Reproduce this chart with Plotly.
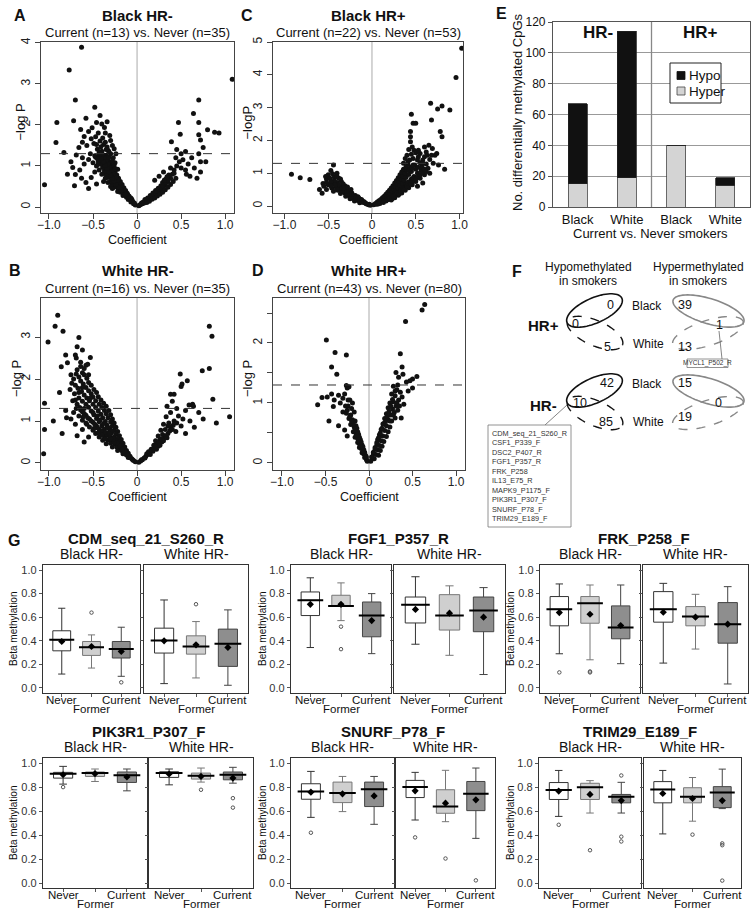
import numpy as np
import plotly.graph_objects as go

W, H = 754, 917
FONT = "Liberation Sans, Arial, sans-serif"

# ---------------- Volcano data (coefficient, -log P) ----------------
volcano_a = [(-0.63,3.89),(-0.77,3.34),(-0.70,2.61),(-0.48,2.43),(-0.91,2.06),(-0.72,2.10),(-0.58,2.16),(-0.42,2.23),
 (-0.64,1.89),(-0.46,2.06),(-0.34,2.08),(-0.40,2.02),(-0.37,1.94),(-0.51,1.93),(-0.55,1.84),(-0.44,1.80),(-0.36,1.80),
 (-0.60,1.72),(-0.52,1.66),(-0.47,1.71),(-0.31,1.74),(-0.30,1.62),(-0.42,1.61),(-0.49,1.55),(-0.57,1.50),(-0.62,1.58),
 (-0.66,1.45),(-0.38,1.52),(-0.34,1.46),(-0.28,1.50),(-0.45,1.41),(-0.40,1.36),(-0.92,1.57),(-1.05,0.54),(-0.83,1.33),
 (-0.69,1.27),(-0.75,1.10),(-0.73,0.96),(-0.79,0.80),(-0.70,0.79),(-0.65,0.90),(-0.60,1.05),(-0.55,1.16),(-0.63,0.70),
 (-0.71,0.52),(-0.58,0.60),(-0.52,0.72),(-0.48,0.85),(-0.50,1.08),(-0.47,1.21),(-0.55,0.45),(-0.46,0.56),(-0.62,1.20),
 (-0.53,1.30),(-0.33,1.38),(-0.26,1.42),(-0.24,1.30),
 (-0.02,0.05),(-0.04,0.08),(-0.05,0.14),(-0.07,0.12),(-0.08,0.20),(-0.10,0.18),(-0.09,0.26),(-0.12,0.24),(-0.11,0.33),
 (-0.14,0.30),(-0.16,0.28),(-0.13,0.40),(-0.16,0.38),(-0.19,0.36),(-0.15,0.47),(-0.18,0.45),(-0.21,0.43),(-0.17,0.55),
 (-0.20,0.53),(-0.23,0.50),(-0.26,0.48),(-0.19,0.62),(-0.22,0.60),(-0.25,0.58),(-0.28,0.56),(-0.21,0.70),(-0.24,0.68),
 (-0.27,0.66),(-0.30,0.63),(-0.23,0.78),(-0.26,0.76),(-0.29,0.74),(-0.33,0.72),(-0.25,0.86),(-0.28,0.84),(-0.31,0.82),
 (-0.35,0.80),(-0.27,0.94),(-0.30,0.92),(-0.33,0.90),(-0.37,0.88),(-0.29,1.02),(-0.32,1.00),(-0.35,0.98),(-0.39,0.96),
 (-0.31,1.10),(-0.34,1.08),(-0.37,1.06),(-0.41,1.04),(-0.33,1.18),(-0.36,1.16),(-0.40,1.14),(-0.44,1.12),(-0.35,1.26),
 (-0.38,1.24),(-0.42,1.22),(-0.30,1.30),(-0.46,1.00),(-0.43,0.90),(-0.40,0.80),(-0.36,0.70),(-0.33,0.60),(-0.30,0.50),
 (-0.27,1.20),(-0.25,1.08),(-0.22,0.92),(-0.28,0.45),(-0.22,0.38),(-0.38,0.62),
 (-0.03,0.10),(-0.06,0.19),(-0.07,0.22),(-0.10,0.28),(-0.12,0.35),(-0.13,0.31),(-0.15,0.42),(-0.17,0.49),(-0.18,0.41),
 (-0.20,0.58),(-0.21,0.48),(-0.22,0.66),(-0.24,0.55),(-0.24,0.73),(-0.26,0.64),(-0.27,0.81),(-0.28,0.70),(-0.29,0.89),
 (-0.30,0.78),(-0.31,0.97),(-0.32,0.86),(-0.33,1.05),(-0.34,0.94),(-0.35,1.13),(-0.36,1.02),(-0.37,1.20),(-0.38,1.10),
 (-0.39,1.28),(-0.41,1.18),(-0.43,1.28),(-0.44,1.05),(-0.45,1.18),(-0.48,1.25),(-0.32,1.22),(-0.28,1.12),(-0.26,1.00),
 (-0.25,0.93),(-0.36,1.58),(-0.41,1.47),(-0.46,1.52),(-0.39,1.68),(-0.32,1.35),(-0.43,1.33),(-0.35,1.40),
 (1.08,3.11),(0.70,2.61),(0.64,2.28),(0.70,2.06),(0.47,2.06),(0.49,1.77),(0.80,1.88),(0.88,1.82),(0.93,1.80),(0.70,1.76),
 (0.72,1.63),(0.39,1.59),(0.55,1.35),(0.75,1.45),(0.72,1.10),(0.78,1.10),
 (0.02,0.03),(0.04,0.06),(0.06,0.08),(0.08,0.10),(0.10,0.13),(0.12,0.15),(0.09,0.18),(0.14,0.18),(0.12,0.22),(0.16,0.21),
 (0.18,0.25),(0.15,0.28),(0.20,0.28),(0.22,0.32),(0.18,0.34),(0.24,0.36),(0.21,0.40),(0.26,0.40),(0.28,0.45),(0.24,0.46),
 (0.30,0.50),(0.27,0.52),(0.32,0.55),(0.29,0.60),(0.35,0.62),(0.33,0.68),(0.38,0.70),(0.36,0.78),(0.40,0.80),(0.25,0.75),
 (0.20,0.65),(0.30,0.85),(0.42,0.90),(0.38,0.95),(0.45,1.00),(0.50,0.95),(0.55,0.90),(0.48,1.10),(0.52,1.15),(0.44,1.20),
 (0.58,1.05),(0.60,0.75),(0.65,0.95),(0.68,0.70),(0.72,0.85),(0.56,0.80),(0.62,1.20),(0.70,1.30),(0.50,1.30),(0.45,1.40),
 (0.03,0.05),(0.05,0.10),(0.07,0.12),(0.09,0.14),(0.11,0.17),(0.13,0.20),(0.15,0.23),(0.17,0.27),(0.19,0.30),(0.21,0.34),
 (0.23,0.38),(0.25,0.43),(0.27,0.47),(0.29,0.52),(0.31,0.57),(0.33,0.60),(0.35,0.66),(0.11,0.11),(0.14,0.14),(0.17,0.19),
 (0.20,0.22),(0.23,0.27),(0.26,0.31),(0.29,0.36),(0.32,0.42),(0.35,0.48),(0.38,0.55),(0.41,0.62),(0.44,0.70),(0.31,0.66),
 (0.34,0.74),(0.42,0.82)]

volcano_b = [(-0.90,3.52),(-0.93,3.26),(-0.84,3.14),(-1.01,2.88),(-0.66,2.99),(-0.68,2.77),(-0.62,2.69),(-0.81,2.57),
 (-0.79,2.39),(-0.86,2.29),(-0.70,2.57),(-0.69,2.50),(-0.53,2.51),(-0.58,2.33),(-0.56,2.35),(-0.64,2.30),(-0.68,2.22),
 (-0.62,2.15),(-0.66,2.05),(-0.60,2.10),(-0.72,2.00),(-0.74,1.90),(-0.57,2.02),(-0.64,1.95),(-0.70,1.85),(-0.61,1.88),
 (-0.55,1.92),(-0.67,1.78),(-0.58,1.80),(-0.52,1.85),(-0.76,1.75),(-0.63,1.70),(-0.55,1.72),(-0.49,1.75),(-0.71,1.65),
 (-0.60,1.62),(-0.52,1.65),(-0.46,1.68),(-0.66,1.55),(-0.57,1.55),(-0.50,1.57),(-0.44,1.58),(-0.73,1.48),(-0.62,1.47),
 (-0.54,1.48),(-0.47,1.48),(-0.41,1.50),(-0.88,1.68),(-1.05,1.42),(-0.81,1.25),(-0.68,1.40),(-0.58,1.40),(-0.50,1.40),
 (-0.43,1.40),(-0.38,1.42),(-0.65,1.32),(-0.55,1.33),(-0.47,1.32),(-0.40,1.32),(-0.35,1.35),
 (-0.72,1.20),(-0.62,1.22),(-0.52,1.24),(-0.44,1.24),(-0.37,1.25),(-0.32,1.25),(-0.75,1.05),(-0.66,1.12),(-0.58,1.14),
 (-0.49,1.15),(-0.41,1.16),(-0.35,1.17),(-0.30,1.15),(-0.62,1.02),(-0.54,1.05),(-0.46,1.06),(-0.39,1.08),(-0.33,1.08),
 (-0.28,1.05),(-0.70,0.92),(-0.58,0.95),(-0.50,0.97),(-0.43,0.98),(-0.36,0.99),(-0.30,0.98),(-0.26,0.95),(-0.54,0.86),
 (-0.46,0.88),(-0.40,0.89),(-0.34,0.90),(-0.28,0.89),(-0.24,0.85),(-0.62,0.80),(-0.50,0.78),(-0.43,0.80),(-0.37,0.81),
 (-0.31,0.81),(-0.26,0.78),(-0.22,0.75),(-0.47,0.70),(-0.40,0.71),(-0.34,0.72),(-0.29,0.72),(-0.24,0.69),(-0.20,0.65),
 (-0.55,0.62),(-0.43,0.62),(-0.37,0.63),(-0.31,0.63),(-0.26,0.62),(-0.22,0.59),(-0.18,0.56),(-0.39,0.54),(-0.33,0.55),
 (-0.28,0.55),(-0.24,0.53),(-0.20,0.50),(-0.16,0.47),(-0.35,0.46),(-0.30,0.47),(-0.25,0.46),(-0.21,0.44),(-0.17,0.41),
 (-0.14,0.38),(-0.28,0.38),(-0.23,0.38),(-0.19,0.36),(-0.15,0.33),(-0.12,0.30),(-0.22,0.30),(-0.17,0.29),(-0.13,0.26),
 (-0.10,0.23),(-0.16,0.22),(-0.12,0.19),(-0.08,0.16),(-0.10,0.13),(-0.06,0.10),(-0.04,0.06),(-0.02,0.03),(-1.05,0.80),
 (-1.06,0.22),(-0.95,1.00),(-0.85,0.70),(-0.80,1.08),(-0.68,0.65),(-0.60,0.50),
 (-0.05,0.08),(-0.08,0.13),(-0.11,0.20),(-0.14,0.27),(-0.17,0.34),(-0.20,0.41),(-0.23,0.48),(-0.26,0.50),(-0.27,0.58),
 (-0.30,0.58),(-0.32,0.66),(-0.35,0.68),(-0.37,0.74),(-0.41,0.77),(-0.45,0.84),(-0.48,0.92),(-0.52,1.00),(-0.56,1.08),
 (-0.60,1.18),(-0.64,1.26),(-0.45,1.12),(-0.50,1.20),(-0.42,1.02),(-0.38,0.94),(-0.33,0.84),(-0.29,0.76),(-0.31,0.70),
 (-0.36,0.58),(-0.40,0.66),(-0.44,0.72),(-0.49,0.82),(-0.57,0.92),(-0.61,1.10),(-0.69,1.30),(-0.70,1.50),(-0.60,1.30),
 (-0.53,1.55),(-0.62,1.80),(-0.66,1.68),(-0.55,2.10),(-0.60,2.25),(-0.64,2.40),(-0.69,2.12),(-0.75,2.10),
 (0.82,3.26),(0.85,3.02),(0.82,2.25),(0.74,2.20),(0.49,2.12),(0.57,1.96),(0.51,1.88),(0.50,1.82),(0.86,1.52),(0.38,1.64),
 (0.42,1.64),(0.40,1.47),(0.59,1.38),(0.63,1.40),(0.64,1.35),(0.34,1.35),(0.45,1.30),(0.55,1.25),(0.70,1.20),(0.38,1.20),
 (0.47,1.12),(0.33,1.10),(0.60,1.00),(0.42,1.00),(0.36,0.95),(0.30,0.92),(0.50,0.88),(0.38,0.85),(0.32,0.80),(0.27,0.78),
 (0.44,0.75),(0.35,0.70),(0.29,0.68),(0.24,0.64),(0.31,0.60),(0.26,0.56),(0.21,0.53),(0.28,0.50),(0.23,0.46),(0.19,0.42),
 (0.24,0.40),(0.20,0.36),(0.16,0.33),(0.18,0.28),(0.14,0.25),(0.12,0.20),(0.10,0.16),(0.08,0.12),(0.06,0.08),(0.04,0.05),
 (0.02,0.02),(0.55,0.70),(0.65,0.85),(0.75,1.05),(0.90,0.95),(0.52,1.05),(1.05,1.10),
 (0.05,0.08),(0.09,0.12),(0.11,0.22),(0.13,0.27),(0.15,0.20),(0.17,0.30),(0.19,0.35),(0.21,0.40),(0.22,0.33),(0.25,0.47),
 (0.26,0.42),(0.28,0.58),(0.30,0.53),(0.33,0.65),(0.34,0.60),(0.37,0.76),(0.40,0.80),(0.41,0.90),(0.45,0.95),(0.35,0.88)]

volcano_c = [(1.025,4.81),(0.96,3.92),(0.67,3.13),(0.80,3.05),(0.75,2.96),(0.89,2.93),(0.45,2.80),(0.47,2.52),(0.50,2.52),
 (0.68,2.62),(0.78,2.27),(0.80,2.11),(0.44,2.27),(0.44,2.11),(0.44,1.96),(0.60,1.80),(0.65,1.85),(0.69,1.75),(0.74,1.60),
 (0.63,1.55),(0.72,1.55),(0.83,1.12),(0.46,1.80),(0.48,1.70),(0.42,1.72),(0.50,1.62),(0.45,1.58),(0.40,1.55),(0.53,1.50),
 (0.47,1.45),(0.58,1.40),(0.66,1.42),(0.70,1.30),(0.62,1.28),(0.55,1.32),(0.43,1.40),(0.38,1.45),(0.36,1.30),(0.41,1.27),
 (0.49,1.25),(0.57,1.20),(0.64,1.15),(0.76,1.25),
 (0.02,0.04),(0.04,0.08),(0.06,0.12),(0.05,0.05),(0.08,0.10),(0.08,0.16),(0.10,0.20),(0.11,0.14),(0.12,0.25),(0.14,0.20),
 (0.14,0.30),(0.17,0.25),(0.16,0.36),(0.19,0.31),(0.21,0.27),(0.18,0.42),(0.21,0.38),(0.24,0.33),(0.20,0.48),(0.23,0.45),
 (0.26,0.40),(0.22,0.55),(0.25,0.52),(0.28,0.47),(0.31,0.43),(0.24,0.62),(0.27,0.60),(0.30,0.55),(0.33,0.50),(0.26,0.70),
 (0.29,0.68),(0.32,0.63),(0.36,0.58),(0.28,0.78),(0.31,0.75),(0.35,0.70),(0.39,0.66),(0.30,0.86),(0.33,0.83),(0.37,0.79),
 (0.42,0.74),(0.32,0.95),(0.35,0.92),(0.39,0.88),(0.45,0.82),(0.34,1.04),(0.38,1.00),(0.42,0.96),(0.48,0.90),(0.36,1.12),
 (0.40,1.10),(0.45,1.05),(0.52,1.00),(0.39,1.20),(0.44,1.18),(0.50,1.12),(0.56,1.08),(0.60,0.95),(0.55,0.85),(0.50,0.75),
 (0.46,0.65),(0.42,0.56),(0.38,0.48),(0.34,0.40),(0.30,0.33),(0.26,0.25),(0.22,0.18),(0.66,1.00),(0.58,0.70),(0.52,0.60),
 (0.07,0.06),(0.09,0.08),(0.13,0.11),(0.16,0.15),(0.18,0.19),(0.20,0.23),(0.23,0.22),(0.25,0.30),(0.27,0.35),(0.29,0.40),
 (0.31,0.37),(0.33,0.45),(0.35,0.52),(0.37,0.50),(0.40,0.60),(0.41,0.70),(0.44,0.68),(0.46,0.75),(0.47,0.85),(0.50,0.82),
 (0.53,0.90),(0.55,0.95),(0.58,1.02),(0.60,1.12),(0.62,1.05),(0.42,1.08),(0.46,1.15),(0.53,1.18),(0.47,1.25),(0.41,1.35),
 (0.52,1.40),(0.60,1.50),(0.55,1.60),(0.68,1.55),(0.62,1.65),(0.53,1.70),(0.58,1.30),
 (-0.92,0.97),(-0.82,0.86),(-0.71,0.81),(-0.57,0.39),(-0.56,0.69),(-0.44,1.25),(-0.47,1.08),(-0.50,0.95),(-0.45,0.98),
 (-0.40,1.00),(-0.52,0.82),(-0.48,0.85),(-0.43,0.88),(-0.38,0.85),(-0.55,0.60),(-0.50,0.65),(-0.45,0.70),(-0.40,0.72),
 (-0.35,0.75),(-0.52,0.50),(-0.46,0.55),(-0.41,0.58),(-0.36,0.60),(-0.31,0.62),(-0.44,0.45),(-0.39,0.48),(-0.34,0.50),
 (-0.29,0.52),(-0.26,0.48),(-0.36,0.38),(-0.31,0.40),(-0.27,0.42),(-0.23,0.40),(-0.30,0.30),(-0.26,0.32),(-0.22,0.33),
 (-0.19,0.32),(-0.25,0.22),(-0.21,0.24),(-0.18,0.25),(-0.15,0.24),(-0.20,0.15),(-0.16,0.17),(-0.13,0.18),(-0.11,0.16),
 (-0.14,0.10),(-0.10,0.11),(-0.08,0.10),(-0.06,0.06),(-0.04,0.04),(-0.02,0.02),(-0.60,0.50),(-0.33,0.68),(-0.28,0.58),
 (-0.24,0.50),
 (-0.03,0.05),(-0.07,0.08),(-0.09,0.13),(-0.12,0.14),(-0.12,0.20),(-0.14,0.21),(-0.17,0.20),(-0.16,0.28),(-0.19,0.27),
 (-0.21,0.29),(-0.24,0.28),(-0.23,0.35),(-0.26,0.37),(-0.28,0.36),(-0.29,0.44),(-0.32,0.45),(-0.34,0.44),(-0.33,0.55),
 (-0.37,0.54),(-0.40,0.53),(-0.38,0.65),(-0.42,0.64),(-0.47,0.62),(-0.43,0.78),(-0.47,0.75),(-0.52,0.72),(-0.53,0.90),
 (-0.40,0.90),(-0.36,0.82)]

volcano_d = [(0.64,2.64),(0.61,2.55),(0.42,2.36),(0.36,1.82),(0.38,1.60),(0.31,1.51),(0.39,1.48),(0.55,1.44),(0.50,1.40),
 (0.47,1.37),(0.43,1.35),(0.34,1.43),(0.28,1.28),(0.32,1.22),(0.36,1.18),(0.30,1.12),(0.26,1.15),(0.34,1.05),(0.28,1.02),
 (0.24,1.00),(0.38,1.10),(0.22,0.92),(0.27,0.90),(0.31,0.95),(0.20,0.82),(0.25,0.80),(0.29,0.84),(0.33,0.88),(0.18,0.74),
 (0.22,0.72),(0.26,0.70),(0.30,0.75),(0.16,0.65),(0.20,0.62),(0.24,0.60),(0.14,0.56),(0.18,0.54),(0.22,0.52),(0.12,0.47),
 (0.16,0.45),(0.20,0.44),(0.10,0.39),(0.14,0.37),(0.17,0.36),(0.09,0.31),(0.12,0.29),(0.15,0.28),(0.07,0.23),(0.10,0.22),
 (0.13,0.21),(0.05,0.15),(0.08,0.14),(0.11,0.13),(0.04,0.08),(0.06,0.07),(0.02,0.03),(0.40,0.98),(0.45,1.20),(0.50,1.25),
 (0.37,0.75),
 (0.03,0.10),(0.05,0.18),(0.07,0.26),(0.09,0.34),(0.11,0.42),(0.13,0.50),(0.15,0.58),(0.17,0.66),(0.19,0.69),(0.21,0.78),
 (0.23,0.86),(0.25,0.95),(0.27,1.06),(0.30,1.20),(0.33,1.30),(0.24,0.70),(0.28,0.80),(0.32,1.00),(0.35,0.95),
 (-0.49,2.05),(-0.39,1.84),(-0.26,1.80),(-0.43,1.60),(-0.37,1.48),(-0.26,1.29),(-0.25,1.25),(-0.23,1.27),(-0.59,0.97),
 (-0.54,1.09),(-0.43,1.15),(-0.35,1.13),(-0.30,1.08),(-0.41,0.94),(-0.30,0.85),(-0.22,1.05),(-0.19,1.00),(-0.20,0.91),
 (-0.26,0.83),(-0.21,0.80),(-0.24,0.95),(-0.17,0.85),(-0.23,0.74),(-0.19,0.72),(-0.16,0.70),(-0.46,0.70),(-0.35,0.62),
 (-0.21,0.64),(-0.17,0.60),(-0.14,0.58),(-0.18,0.52),(-0.15,0.50),(-0.12,0.48),(-0.16,0.43),(-0.13,0.41),(-0.10,0.39),
 (-0.13,0.34),(-0.11,0.32),(-0.08,0.30),(-0.11,0.26),(-0.09,0.24),(-0.06,0.22),(-0.08,0.17),(-0.06,0.15),(-0.04,0.13),
 (-0.05,0.09),(-0.03,0.06),(-0.02,0.03),(-0.28,0.55),(-0.25,0.45),
 (-0.03,0.10),(-0.05,0.18),(-0.07,0.20),(-0.07,0.27),(-0.10,0.29),(-0.09,0.35),(-0.12,0.37),(-0.11,0.43),(-0.14,0.46),
 (-0.13,0.52),(-0.16,0.55),(-0.15,0.62),(-0.18,0.64),(-0.20,0.70),(-0.22,0.78),(-0.25,0.88),(-0.27,0.95),(-0.24,1.05),
 (-0.28,1.15),(-0.33,1.00),(-0.40,1.05),(-0.48,1.10)]

volcano_titles = ["Black HR-", "Black HR+", "White HR-", "White HR+"]
volcano_subtitles = ["Current (n=13) vs. Never (n=35)", "Current (n=22) vs. Never (n=53)",
                     "Current (n=16) vs. Never (n=35)", "Current (n=43) vs. Never (n=80)"]
volcano_ylabels = ["\u2212log P", "\u2212logP", "\u2212log P", "\u2212log P"]
volcano_xticks = [-1.0, -0.5, 0, 0.5, 1.0]
volcano_xticktext = ["\u22121.0", "\u22120.5", "0", "0.5", "1.0"]

# ---------------- Panel E data ----------------
e_groups = ["Black", "White", "Black", "White"]
e_hyper = [15, 19, 40, 14]
e_hypo = [52, 95, 0, 5]

# ---------------- Panel F data ----------------
f_hrpos_hypo = ["0", "0", "5"]      # black only, overlap, white only
f_hrpos_hyper = ["39", "1", "13"]
f_hrneg_hypo = ["42", "10", "85"]
f_hrneg_hyper = ["15", "0", "19"]
f_genes_overlap = ["CDM_seq_21_S260_R", "CSF1_P339_F", "DSC2_P407_R", "FGF1_P357_R", "FRK_P258",
                   "IL13_E75_R", "MAPK9_P1175_F", "PIK3R1_P307_F", "SNURF_P78_F", "TRIM29_E189_F"]
f_gene_hyper = "MYCL1_P502_R"

# ---------------- Panel G data ----------------
g_genes = ["CDM_seq_21_S260_R", "FGF1_P357_R", "FRK_P258_F", "PIK3R1_P307_F", "SNURF_P78_F", "TRIM29_E189_F"]
g_groups = ["Never", "Former", "Current"]
# one row per panel: gene0-Black, gene0-White, gene1-Black, ...
box_low = [[0.118,0.169,0.099],[0.037,0.085,0.023],
           [0.343,0.571,0.291],[0.371,0.277,0.114],
           [0.290,0.239,0.206],[0.211,0.330,0.034],
           [0.824,0.846,0.768],[0.818,0.841,0.832],
           [0.547,0.595,0.489],[0.525,0.511,0.372],
           [0.555,0.583,0.583],[0.409,0.515,0.620]]
box_q1 = [[0.315,0.276,0.254],[0.296,0.287,0.183],
          [0.614,0.691,0.434],[0.551,0.491,0.477],
          [0.527,0.549,0.417],[0.558,0.527,0.380],
          [0.874,0.888,0.838],[0.880,0.866,0.860],
          [0.698,0.670,0.637],[0.712,0.581,0.603],
          [0.696,0.696,0.668],[0.668,0.668,0.628]]
box_med = [[0.408,0.346,0.330],[0.403,0.352,0.375],
           [0.743,0.694,0.614],[0.706,0.614,0.657],
           [0.668,0.718,0.513],[0.668,0.606,0.541],
           [0.911,0.916,0.897],[0.916,0.894,0.902],
           [0.763,0.749,0.782],[0.799,0.637,0.743],
           [0.775,0.797,0.718],[0.780,0.718,0.755]]
box_q3 = [[0.485,0.394,0.394],[0.507,0.442,0.499],
          [0.814,0.786,0.729],[0.771,0.791,0.771],
          [0.775,0.775,0.696],[0.817,0.690,0.724],
          [0.922,0.925,0.925],[0.927,0.916,0.925],
          [0.827,0.841,0.841],[0.855,0.777,0.846],
          [0.837,0.831,0.738],[0.845,0.794,0.803]]
box_high = [[0.676,0.450,0.515],[0.746,0.563,0.662],
            [0.934,0.891,0.800],[0.943,0.866,0.851],
            [0.882,0.873,0.873],[0.887,0.794,0.859],
            [0.972,0.950,0.950],[0.950,0.958,0.964],
            [0.930,0.888,0.888],[0.922,0.939,0.958],
            [0.938,0.853,0.839],[0.938,0.879,0.949]]
box_mean = [[0.394,0.352,0.310],[0.400,0.366,0.344],
            [0.709,0.709,0.571],[0.666,0.634,0.600],
            [0.639,0.625,0.530],[0.642,0.600,0.541],
            [0.902,0.911,0.883],[0.908,0.888,0.874],
            [0.757,0.743,0.726],[0.768,0.665,0.693],
            [0.766,0.738,0.687],[0.746,0.704,0.687]]
box_outliers = [(0,1,0.639),(0,2,0.048),(1,1,0.710),
                (2,1,0.520),(2,1,0.329),
                (4,0,0.132),(4,1,0.132),(4,1,0.140),
                (6,0,0.799),(7,1,0.777),(7,2,0.707),(7,2,0.628),
                (8,0,0.419),(9,0,0.380),(9,1,0.204),(9,2,0.022),
                (10,0,0.485),(10,1,0.273),(10,2,0.896),(10,2,0.386),(10,2,0.346),
                (11,1,0.403),(11,2,0.330),(11,2,0.315),(11,2,0.020)]

# =====================================================================
fig = go.Figure()

def xd(a, b):
    return [a / W, b / W]

def yd(top, bottom):
    return [1 - bottom / H, 1 - top / H]

def names(n):
    return (("xaxis", "yaxis", "x", "y") if n == 1 else
            (f"xaxis{n}", f"yaxis{n}", f"x{n}", f"y{n}"))

def txt(x, y, s, size=12, bold=False, angle=0, color="#111", xanchor="center", yanchor="middle",
        align="center", xref="paper"):
    fig.add_annotation(x=x / W if xref == "paper" else x, y=1 - y / H, xref=xref, yref="paper",
                       text=f"<b>{s}</b>" if bold else s, showarrow=False,
                       font=dict(family=FONT, size=size, color=color), textangle=angle,
                       xanchor=xanchor, yanchor=yanchor, align=align, borderpad=0)

def rect(x0, y0, x1, y1, line="#777", fill="white", width=0.8):
    fig.add_shape(type="rect", xref="paper", yref="paper", x0=x0 / W, y0=1 - y1 / H, x1=x1 / W, y1=1 - y0 / H,
                  line=dict(color=line, width=width), fillcolor=fill)

def seg(x0, y0, x1, y1, color="#666", width=0.8):
    fig.add_shape(type="line", xref="paper", yref="paper", x0=x0 / W, y0=1 - y0 / H, x1=x1 / W, y1=1 - y1 / H,
                  line=dict(color=color, width=width))

AXC = "#444"
layout_axes = {}

# ---------------- Volcano panels ----------------
volcano_sets = [volcano_a, volcano_c, volcano_b, volcano_d]
vbox = [  # pixel boxes (left, right, top, bottom), x range, y range
    ((41, 234, 42, 213), (-1.09, 1.10), (-0.146, 4.02)),
    ((273, 463, 42, 213), (-1.131, 1.04), (-0.213, 5.0)),
    ((41, 234, 298, 470), (-1.09, 1.10), (-0.167, 3.93)),
    ((273, 465, 298, 470), (-1.103, 1.103), (-0.117, 2.75)),
]
vyticks = [([0, 1, 2, 3, 4], ["0", "1", "2", "3", "4"]),
           ([0, 1, 2, 3, 4, 5], ["0", "1", "2", "3", "4", "5"]),
           ([0, 1, 2, 3], ["0", "1", "2", "3"]),
           ([0, 0.5, 1, 1.5, 2, 2.5], ["0", "", "1", "", "2", ""])]
vylab_x = [20, 247, 16, 247]

for i in range(4):
    n = i + 1
    xk, yk, xr, yr = names(n)
    (l, r, t, b), xrng, yrng = vbox[i]
    layout_axes[xk] = dict(domain=xd(l, r), range=list(xrng), anchor=yr, showline=True, mirror=True,
                           linecolor=AXC, linewidth=1.3, ticks="outside", ticklen=5, tickcolor=AXC,
                           tickvals=volcano_xticks, ticktext=volcano_xticktext, showgrid=False, zeroline=False,
                           automargin=False, ticklabelstandoff=-5,
                           tickfont=dict(family=FONT, size=12, color="#222"))
    layout_axes[yk] = dict(domain=yd(t, b), range=list(yrng), anchor=xr, showline=True, mirror=True,
                           linecolor=AXC, linewidth=1.3, ticks="outside", ticklen=5, tickcolor=AXC,
                           tickvals=vyticks[i][0], ticktext=vyticks[i][1], tickangle=-90, showgrid=False,
                           zeroline=False, automargin=False, tickfont=dict(family=FONT, size=12, color="#222"))
    pts = volcano_sets[i]
    fig.add_trace(go.Scatter(x=[p[0] for p in pts], y=[p[1] for p in pts], mode="markers",
                             marker=dict(size=5, color="#111"), xaxis=xr, yaxis=yr,
                             showlegend=False, hoverinfo="skip"))
    fig.add_shape(type="line", xref=xr, yref=f"{yr} domain", x0=0, x1=0, y0=0, y1=1,
                  line=dict(color="#aaa", width=1), layer="below")
    fig.add_shape(type="line", xref=f"{xr} domain", yref=yr, x0=0, x1=1, y0=1.3, y1=1.3,
                  line=dict(color="#333", width=1, dash="dash"))
    cx = (l + r) / 2
    txt(cx, t - 27, volcano_titles[i], size=15, bold=True)
    txt(cx, t - 9, volcano_subtitles[i], size=13)
    txt(cx, b + 27, "Coefficient", size=12.5)
    txt(vylab_x[i], (t + b) / 2 - 5, volcano_ylabels[i], size=13, angle=-90)

txt(20, 15, "A", size=16, bold=True)
txt(247, 15, "C", size=16, bold=True)
txt(15, 270, "B", size=16, bold=True)
txt(258, 270, "D", size=16, bold=True)

# ---------------- Panel E ----------------
n = 5
xk, yk, xr, yr = names(n)
layout_axes[xk] = dict(domain=xd(553, 750), range=[-0.5, 3.5], anchor=yr, showline=True, mirror=True,
                       linecolor="#555", linewidth=1.2, tickvals=[0, 1, 2, 3], ticktext=e_groups, ticks="",
                       showgrid=False, zeroline=False, automargin=False,
                       tickfont=dict(family=FONT, size=13, color="#111"))
layout_axes[yk] = dict(domain=yd(22, 207), range=[0, 120], anchor=xr, showline=True, mirror=True,
                       linecolor="#555", linewidth=1.2, dtick=20, ticks="outside", ticklen=4, tickcolor="#555",
                       showgrid=True, gridcolor="#999", gridwidth=1, zeroline=False, automargin=False,
                       tickfont=dict(family=FONT, size=12, color="#111"))
fig.add_trace(go.Bar(x=[0, 1, 2, 3], y=e_hyper, name="Hyper", width=0.39, xaxis=xr, yaxis=yr,
                     marker=dict(color="#d4d4d4", line=dict(color="#444", width=0.8)),
                     hoverinfo="skip", showlegend=False))
fig.add_trace(go.Bar(x=[0, 1, 2, 3], y=e_hypo, name="Hypo", width=0.39, xaxis=xr, yaxis=yr,
                     marker=dict(color="#111", line=dict(color="#222", width=0.8)),
                     hoverinfo="skip", showlegend=False))
fig.add_shape(type="line", xref=xr, yref=f"{yr} domain", x0=1.5, x1=1.5, y0=0, y1=1,
              line=dict(color="#888", width=1.3))
# legend box
rect(670, 63, 721, 103, line="#222", fill="white", width=1)
rect(677, 71.5, 685, 79.5, line="#111", fill="#111", width=0.8)
rect(677, 87, 685, 95, line="#444", fill="#d4d4d4", width=0.8)
txt(688, 75.5, "Hypo", size=13.5, xanchor="left")
txt(688, 91, "Hyper", size=13.5, xanchor="left")
txt(598, 33, "HR-", size=17, bold=True)
txt(700, 33, "HR+", size=17, bold=True)
txt(501, 13, "E", size=16, bold=True)
txt(518, 112, "No. differentially methylated CpGs", size=13, angle=-90)
txt(650, 233, "Current vs. Never smokers", size=13)

# ---------------- Panel F ----------------
def ellipse_path(cx, cy, a, b, ang):
    t = np.linspace(0, 2 * np.pi, 72)
    th = np.radians(ang)
    px = cx + a * np.cos(t) * np.cos(th) - b * np.sin(t) * np.sin(th)
    py = cy - (a * np.cos(t) * np.sin(th) + b * np.sin(t) * np.cos(th))
    pts = [f"{x / W:.5f},{1 - y / H:.5f}" for x, y in zip(px, py)]
    return "M " + " L ".join(pts) + " Z"

for dy in (0, 80):
    fig.add_shape(type="path", xref="paper", yref="paper", path=ellipse_path(594.5, 310.5 + dy, 30, 12.5, 24),
                  line=dict(color="#111", width=1.6))
    fig.add_shape(type="path", xref="paper", yref="paper", path=ellipse_path(595, 333 + dy, 30, 12.5, -24),
                  line=dict(color="#111", width=1.4, dash="dash"))
    fig.add_shape(type="path", xref="paper", yref="paper", path=ellipse_path(708.5, 311 + dy, 37, 12.5, -17),
                  line=dict(color="#888", width=1.6))
    fig.add_shape(type="path", xref="paper", yref="paper", path=ellipse_path(708, 333 + dy, 37, 12.5, 18),
                  line=dict(color="#888", width=1.4, dash="dash"))

txt(517, 272, "F", size=16, bold=True)
txt(588, 267, "Hypomethylated", size=12)
txt(588, 281, "in smokers", size=12)
txt(698, 267, "Hypermethylated", size=12)
txt(698, 281, "in smokers", size=12)
txt(543, 325, "HR+", size=15, bold=True)
txt(543, 405, "HR-", size=15, bold=True)
for dy in (0, 78):
    txt(647, 306 + dy, "Black", size=12)
    txt(648, 344 + dy, "White", size=12)
vals = [(f_hrpos_hypo, [(610, 305), (575, 324), (607, 347)]),
        (f_hrpos_hyper, [(685, 305), (719, 325), (685, 347)]),
        (f_hrneg_hypo, [(607, 383), (580, 403), (606, 422)]),
        (f_hrneg_hyper, [(685, 383), (718, 403), (685, 417)])]
for labels, pos in vals:
    for s, (x, y) in zip(labels, pos):
        txt(x, y, s, size=12.5)

seg(719, 331, 722, 359)
rect(687, 359, 728, 367.5)
txt(707.5, 363.3, f_gene_hyper, size=6.5, color="#333")
seg(567, 405, 545, 425)
rect(488, 425, 571, 527)
txt(491, 476, "<br>".join(f_genes_overlap), size=7.3, color="#333", xanchor="left", align="left")

# ---------------- Panel G ----------------
g_panels_x = [(43, 140), (144, 248), (291, 391), (394, 505), (540, 640), (643, 748),
              (43, 147), (149, 253), (291, 394), (396, 495), (539, 641), (644, 741)]
g_rows_y = [(565.3, 692.7), (758.2, 887.8)]
g_fill = ["#ffffff", "#cfcfcf", "#8e8e8e"]
g_line = ["#333333", "#777777", "#444444"]
g_sub = ["Black HR-", "White HR-"]
g_ylab_x = [13, 262, 510]

for p in range(12):
    gene = p // 2
    side = p % 2
    row = gene // 3
    col = gene % 3
    n = 6 + p
    xk, yk, xr, yr = names(n)
    l, r = g_panels_x[p]
    t, b = g_rows_y[row]
    layout_axes[xk] = dict(domain=xd(l, r), range=[0.37, 3.63], anchor=yr, showline=True, mirror=True,
                           linecolor="#333", linewidth=1.3, tickvals=[1, 2, 3], showticklabels=False,
                           ticks="outside", ticklen=3, tickcolor="#555", showgrid=False, zeroline=False,
                           automargin=False)
    layout_axes[yk] = dict(domain=yd(t, b), range=[-0.04, 1.04], anchor=xr, showline=True, mirror=True,
                           linecolor="#333", linewidth=1.3, tickvals=[0, 0.2, 0.4, 0.6, 0.8, 1.0],
                           ticktext=["0.0", "0.2", "0.4", "0.6", "0.8", "1.0"], ticks="outside", ticklen=3,
                           tickcolor="#555", showticklabels=(side == 0), showgrid=False, zeroline=False,
                           automargin=False, tickfont=dict(family=FONT, size=11, color="#333"))
    for gi in range(3):
        fig.add_trace(go.Box(x=[gi + 1], q1=[box_q1[p][gi]], median=[box_med[p][gi]], q3=[box_q3[p][gi]],
                             lowerfence=[box_low[p][gi]], upperfence=[box_high[p][gi]],
                             width=0.6, whiskerwidth=0.4, fillcolor=g_fill[gi],
                             line=dict(color=g_line[gi], width=1), boxpoints=False,
                             xaxis=xr, yaxis=yr, showlegend=False, hoverinfo="skip"))
    fig.add_trace(go.Scatter(x=[1, 2, 3], y=box_med[p], mode="markers",
                             marker=dict(symbol="line-ew", size=(r - l) / 3.26 * 0.6,
                                         line=dict(color="#000", width=2)),
                             xaxis=xr, yaxis=yr, showlegend=False, hoverinfo="skip"))
    fig.add_trace(go.Scatter(x=[1, 2, 3], y=box_mean[p], mode="markers",
                             marker=dict(symbol="diamond", size=5.5, color="#000"),
                             xaxis=xr, yaxis=yr, showlegend=False, hoverinfo="skip"))
    ox = [o[1] + 1 for o in box_outliers if o[0] == p]
    oy = [o[2] for o in box_outliers if o[0] == p]
    if ox:
        fig.add_trace(go.Scatter(x=ox, y=oy, mode="markers",
                                 marker=dict(symbol="circle-open", size=3.5, color="#555", line=dict(width=1)),
                                 xaxis=xr, yaxis=yr, showlegend=False, hoverinfo="skip"))
    # category labels (staggered like the original)
    for gi, lab in enumerate(g_groups):
        txt(gi + 1, b + (16 if gi == 1 else 7.5), lab, size=11.5, xref=xr)
    txt((l + r) / 2, t - 11, g_sub[side], size=14)
    if side == 0:
        l2 = g_panels_x[p + 1][1]
        txt((l + l2) / 2, t - 27, g_genes[gene], size=15, bold=True)
        txt(g_ylab_x[col], (t + b) / 2, "Beta methylation", size=10, angle=-90)

txt(14, 540, "G", size=16, bold=True)

fig.update_layout(
    width=W, height=H, margin=dict(l=0, r=0, t=0, b=0, autoexpand=False),
    paper_bgcolor="white", plot_bgcolor="white",
    barmode="stack", showlegend=False,
    font=dict(family=FONT),
    **layout_axes,
)

fig.write_html("out.html", config={"displayModeBar": False},
               post_script="document.body.style.margin='0';document.body.style.overflow='hidden';")
